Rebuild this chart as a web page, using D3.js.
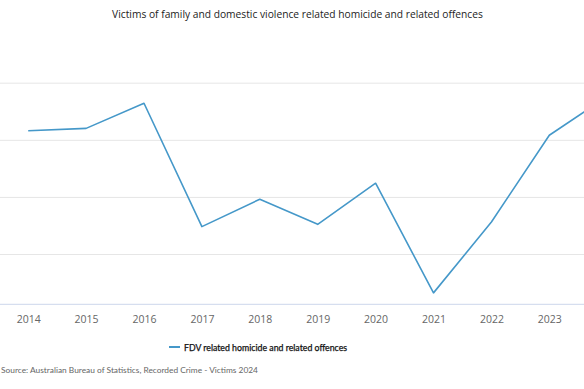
<!DOCTYPE html>
<html>
<head>
<meta charset="utf-8">
<script src="https://cdn.jsdelivr.net/npm/d3@7"></script>
<style>
  html, body { margin: 0; padding: 0; background: #fff; }
  svg { display: block; font-family: "Open Sans", "Noto Sans", sans-serif; }
</style>
</head>
<body>
<svg id="chart" width="584" height="389"></svg>
<script>
// ---- data ----
const years = ["2014","2015","2016","2017","2018","2019","2020","2021","2022","2023","2024"];
const fdvVictims = [179, 180, 191, 137, 149, 138, 156, 108, 139, 177, 194];
const yTicks = [125, 150, 175, 200];
const xTickLabels = ["2014","2015","2016","2017","2018","2019","2020","2021","2022","2023"];
const titleText = "Victims of family and domestic violence related homicide and related offences";
const seriesName = "FDV related homicide and related offences";
const sourceText = "Source: Australian Bureau of Statistics, Recorded Crime - Victims 2024";

// ---- layout ----
const W = 584, H = 389;
const plot = { left: -60, right: 640, top: 82.7, bottom: 304.3 };
const svg = d3.select("#chart");

const x = d3.scalePoint().domain(years).range([28.2, 28.2 + 57.9 * (years.length - 1)]);
const y = d3.scaleLinear().domain([103, 200]).range([plot.bottom, plot.top]);

function fitWidth(sel, target) {
  const w = sel.node().getComputedTextLength();
  const fs = parseFloat(sel.style("font-size"));
  sel.style("font-size", (fs * target / w).toFixed(2) + "px");
}

// gridlines
const gy = svg.append("g").attr("transform", `translate(${plot.left},0)`)
  .call(d3.axisLeft(y).tickValues(yTicks).tickSize(-(plot.right - plot.left)).tickFormat(""));
gy.select(".domain").remove();
gy.selectAll(".tick line").attr("stroke", "#e6e6e6").attr("stroke-width", 1);

// x axis
const gx = svg.append("g").attr("transform", `translate(0,${plot.bottom})`)
  .call(d3.axisBottom(x).tickValues(xTickLabels).tickSize(0).tickPadding(11));
gx.select(".domain").attr("d", `M${plot.left},0H${plot.right}`).attr("stroke", "#ccd6eb");
gx.selectAll(".tick text").attr("fill", "#666").style("font-size", "10.5px")
  .style("font-family", "'Open Sans', sans-serif");

// line
const line = d3.line().x((d, i) => x(years[i])).y(d => y(d));
svg.append("path").datum(fdvVictims)
  .attr("d", line).attr("fill", "none")
  .attr("stroke", "#4598c9").attr("stroke-width", 1.6)
  .attr("stroke-linejoin", "round");

// title
const t = svg.append("text").attr("x", 297.5).attr("y", 18).attr("text-anchor", "middle")
  .attr("fill", "#222").style("font-size", "10.5px").text(titleText);
fitWidth(t, 371);

// legend
const lg = svg.append("g").attr("transform", "translate(169,347)");
lg.append("line").attr("x1", 0).attr("x2", 11).attr("y1", 0).attr("y2", 0)
  .attr("stroke", "#4598c9").attr("stroke-width", 2);
const lt = lg.append("text").attr("x", 15).attr("y", 3.5).attr("fill", "#111")
  .style("font-family", "Lato, sans-serif")
  .style("font-size", "10px").style("font-weight", "normal")
  .style("stroke", "#111").style("stroke-width", 0.25).text(seriesName);
fitWidth(lt, 163);

// source
const st = svg.append("text").attr("x", 1).attr("y", 373)
  .attr("fill", "#666").style("font-family", "Lato, sans-serif")
  .style("font-size", "9.5px").text(sourceText);
fitWidth(st, 257);
</script>
</body>
</html>
